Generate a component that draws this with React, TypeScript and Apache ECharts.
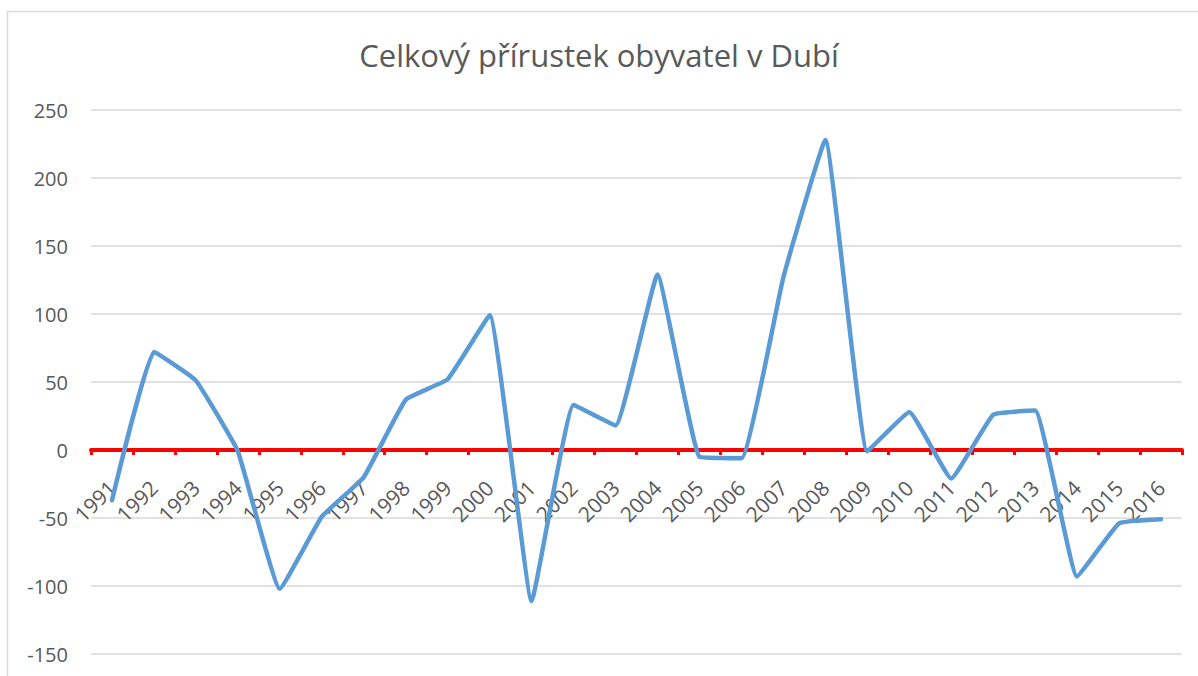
import React, { useEffect, useRef } from "react";
import * as echarts from "echarts";

const years = [
  "1991", "1992", "1993", "1994", "1995", "1996", "1997", "1998", "1999", "2000",
  "2001", "2002", "2003", "2004", "2005", "2006", "2007", "2008", "2009", "2010",
  "2011", "2012", "2013", "2014", "2015", "2016",
];
const growth = [
  -37, 72, 51, -1, -102, -49, -20, 37, 52, 99,
  -111, 33, 18, 129, -5, -6, 127, 228, -1, 28,
  -21, 26, 29, -93, -54, -51,
];
const yMin = -150;
const yMax = 250;
const yStep = 50;

const FONT = "'Open Sans', 'Noto Sans', sans-serif";
const TEXT = "#595959";

const W = 1198;
const H = 676;
const GRID_TOP = 110;
const GRID_BOTTOM = 22;

export default function App() {
  const ref = useRef<HTMLDivElement>(null);
  useEffect(() => {
    document.body.style.margin = "0";
    const chart = echarts.init(ref.current!, null, { renderer: "svg" });
    const gridH = H - GRID_TOP - GRID_BOTTOM;
    const zeroOffset = (gridH * (0 - yMin)) / (yMax - yMin);
    chart.setOption({
      animation: false,
      backgroundColor: "#ffffff",
      title: {
        text: "Celkový přírustek obyvatel v Dubí",
        left: "center",
        top: 34,
        textStyle: { fontFamily: FONT, fontSize: 31, fontWeight: "normal", color: TEXT },
      },
      graphic: [
        {
          type: "rect",
          shape: { x: 7.5, y: 11.5, width: 1300, height: 800 },
          style: { fill: "none", stroke: "#d9d9d9", lineWidth: 1.5 },
          silent: true,
        },
      ],
      grid: {
        left: 91,
        right: 16,
        top: GRID_TOP,
        bottom: GRID_BOTTOM,
        containLabel: false,
        outerBoundsMode: "none",
      },
      xAxis: [
        {
          type: "category",
          data: years,
          boundaryGap: true,
          position: "bottom",
          offset: -zeroOffset,
          axisLine: { onZero: false, lineStyle: { color: "#ff0000", width: 4 } },
          axisTick: { show: true, length: 5, lineStyle: { color: "#ff0000", width: 3 } },
          axisLabel: { show: false },
          splitLine: { show: false },
          z: 3,
        },
        {
          type: "category",
          data: years,
          boundaryGap: true,
          position: "bottom",
          offset: -zeroOffset + 34,
          axisLine: { show: false, onZero: false },
          axisTick: { show: false },
          axisLabel: {
            rotate: 45,
            interval: 0,
            margin: 0,
            fontFamily: FONT,
            fontSize: 21,
            color: TEXT,
            hideOverlap: false,
          },
          splitLine: { show: false },
          z: 2,
        },
      ],
      yAxis: {
        type: "value",
        min: yMin,
        max: yMax,
        interval: yStep,
        axisLine: { show: false },
        axisTick: { show: false },
        axisLabel: { fontFamily: FONT, fontSize: 20, color: TEXT, margin: 23 },
        splitLine: { lineStyle: { color: "#d9d9d9", width: 1.5 } },
      },
      series: [
        {
          type: "line",
          xAxisIndex: 0,
          data: growth,
          smooth: 0.1,
          symbol: "none",
          lineStyle: { color: "#5b9bd5", width: 4.5, cap: "round", join: "round" },
          z: 5,
        },
      ],
    });
    return () => chart.dispose();
  }, []);
  return <div ref={ref} style={{ width: W, height: H }} />;
}
